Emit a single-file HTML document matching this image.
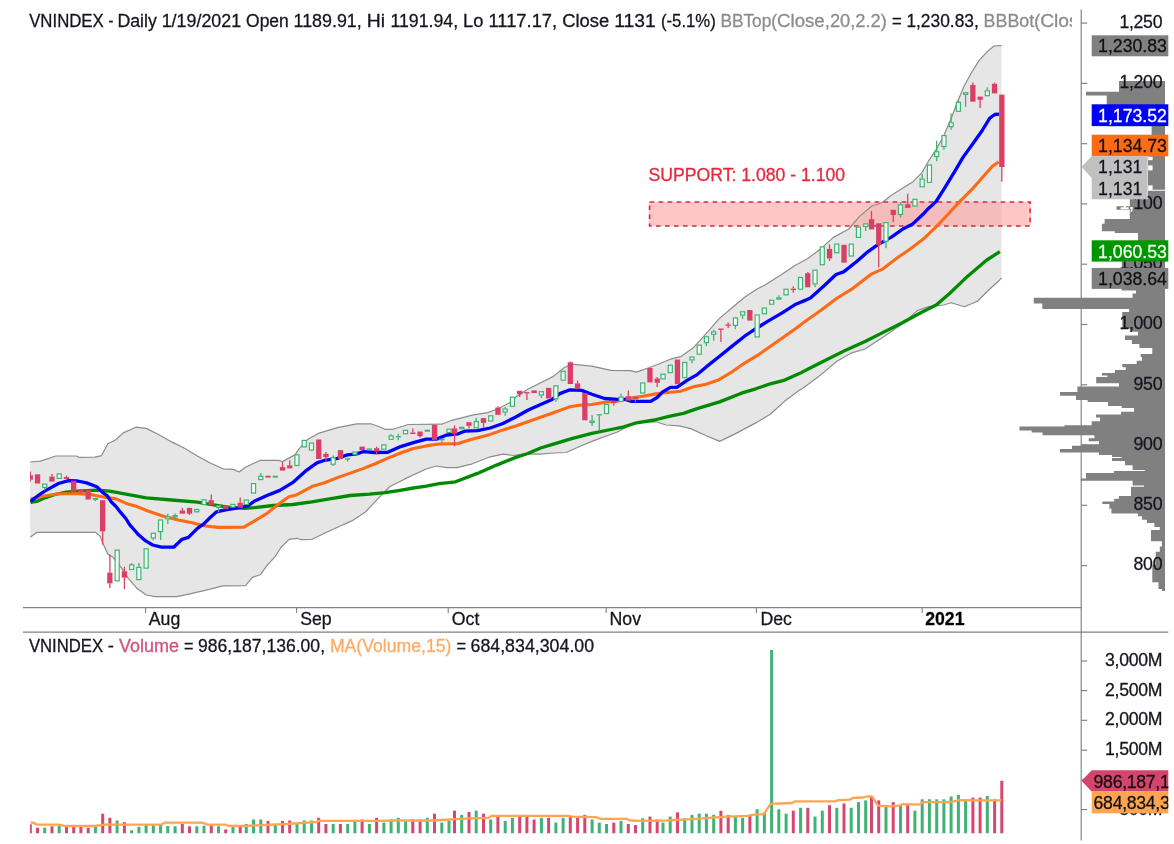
<!DOCTYPE html>
<html lang="en"><head><meta charset="utf-8"><title>VNINDEX - Daily</title>
<style>
html,body{margin:0;padding:0;background:#fff;}
body{width:1174px;height:844px;overflow:hidden;}
svg{display:block;filter:blur(0.3px);}
text{font-family:"Liberation Sans",Arial,sans-serif;font-size:17.68px;fill:#15151f;stroke:#15151f;stroke-width:0.28px;white-space:pre;}
.ln{fill:none;stroke-linejoin:round;stroke-linecap:butt;}
</style></head><body>
<svg width="1174" height="844" viewBox="0 0 1174 844">
<defs>
<clipPath id="ct"><rect x="0" y="0" width="1072" height="40"/></clipPath>
<clipPath id="cl"><rect x="1080" y="760" width="88.3" height="60"/></clipPath>
<clipPath id="cp"><rect x="30" y="30" width="1052" height="577"/></clipPath>
<clipPath id="cv"><rect x="30" y="640" width="1051" height="193.5"/></clipPath>
</defs>
<rect x="0" y="0" width="1174" height="844" fill="#fff"/>
<g clip-path="url(#cp)">
<polygon points="30.2,462 40.5,461.1 55.8,456 76.3,456 78.9,457.3 95,457.2 101.4,455.7 107.8,443.8 115.5,440 123.2,432.9 136,427.2 146.2,428.4 159,434.8 171.8,441.9 184.6,448.3 197.4,456 210.2,463 223,468.8 233.2,469.4 239.3,472 245,467.5 251.6,464.2 260.6,460.3 278.5,460.3 282.4,461.6 295.2,454.6 299,448.8 308,439.2 318.2,433.4 337.4,427.7 356.6,423.8 370.7,423.8 378,426.3 385.2,429.3 392.9,429.3 408.3,424.5 441.6,424.2 451.8,420.3 472.3,415.2 487.6,412.6 497.9,408.8 509.4,403 515.8,397 527.8,389.2 553.4,376.4 563.6,368 571.3,364.2 591.8,366.1 611,370.3 630.2,370.6 636.6,372.1 648.1,368 660,363.5 670.4,359.2 680.6,356.7 693.4,347.7 706.2,333.6 719,318.9 731.8,308 744.6,297.2 757.4,288.8 765,285 780,275.5 795,265.5 807.8,258.5 820.6,248.9 833.4,237.4 848.8,229 859,216.9 871.8,206 882,202.8 891,195.5 902.8,188.1 913,181.7 922,172.7 928.4,161.2 936.1,149.7 943.8,135.6 951.2,118.3 957.6,101.7 964,86.3 971.7,72.2 979.4,60.1 987,51.8 994.1,46 1001.5,45.6 1001.5,277.8 999.9,279.7 988.7,290 977.4,301.2 964.3,306.8 951.2,302.7 943.7,305 928.7,306.5 917.4,310.6 902.4,323.7 883.7,336.8 865,349 851.8,352.8 836.9,361.2 818.1,377.1 803.1,388 799.3,390.3 784.8,401.1 770.3,414.2 755.8,422.9 734.1,434.4 719.6,441.4 705.2,435.2 690.7,428.6 679.1,425.8 666.1,425 655.8,421.8 643,421.8 630.2,425 617.4,432 594.4,440.4 579,446.8 566.2,452.5 553.4,453 540,454.2 525,453.8 513.2,455.5 503,454.2 490.2,456.8 472.3,463.8 456.9,467.7 446.7,467.7 436.4,466 426.2,469 407,477.9 400,481.5 389.9,486.5 379,497.7 365.4,512 351.8,520.9 338.1,527 324.5,533.2 312.2,539.3 301.3,539.7 297.2,538.3 289.1,539.3 280.9,547.5 275.4,556.3 267.3,565.2 260.4,574.7 252.3,577.4 245.5,585.6 223,585.8 210.2,589.2 191,593.7 176.9,596.6 155.2,596.6 146.2,595 137.2,588.6 128.3,578.3 120.6,566.8 112.9,557.2 107.8,554 102.7,543.1 100.1,536.1 95.5,532.4 36.6,532.4 30.2,537.3" fill="#E6E6E6"/>
<rect x="648.8" y="201.8" width="382" height="24.4" fill="#FF9C9C" fill-opacity="0.58"/>
<polyline class="ln" points="30.2,462 40.5,461.1 55.8,456 76.3,456 78.9,457.3 95,457.2 101.4,455.7 107.8,443.8 115.5,440 123.2,432.9 136,427.2 146.2,428.4 159,434.8 171.8,441.9 184.6,448.3 197.4,456 210.2,463 223,468.8 233.2,469.4 239.3,472 245,467.5 251.6,464.2 260.6,460.3 278.5,460.3 282.4,461.6 295.2,454.6 299,448.8 308,439.2 318.2,433.4 337.4,427.7 356.6,423.8 370.7,423.8 378,426.3 385.2,429.3 392.9,429.3 408.3,424.5 441.6,424.2 451.8,420.3 472.3,415.2 487.6,412.6 497.9,408.8 509.4,403 515.8,397 527.8,389.2 553.4,376.4 563.6,368 571.3,364.2 591.8,366.1 611,370.3 630.2,370.6 636.6,372.1 648.1,368 660,363.5 670.4,359.2 680.6,356.7 693.4,347.7 706.2,333.6 719,318.9 731.8,308 744.6,297.2 757.4,288.8 765,285 780,275.5 795,265.5 807.8,258.5 820.6,248.9 833.4,237.4 848.8,229 859,216.9 871.8,206 882,202.8 891,195.5 902.8,188.1 913,181.7 922,172.7 928.4,161.2 936.1,149.7 943.8,135.6 951.2,118.3 957.6,101.7 964,86.3 971.7,72.2 979.4,60.1 987,51.8 994.1,46 1001.5,45.6" stroke="#8C8C8C" stroke-width="1.2"/>
<polyline class="ln" points="30.2,537.3 36.6,532.4 95.5,532.4 100.1,536.1 102.7,543.1 107.8,554 112.9,557.2 120.6,566.8 128.3,578.3 137.2,588.6 146.2,595 155.2,596.6 176.9,596.6 191,593.7 210.2,589.2 223,585.8 245.5,585.6 252.3,577.4 260.4,574.7 267.3,565.2 275.4,556.3 280.9,547.5 289.1,539.3 297.2,538.3 301.3,539.7 312.2,539.3 324.5,533.2 338.1,527 351.8,520.9 365.4,512 379,497.7 389.9,486.5 400,481.5 407,477.9 426.2,469 436.4,466 446.7,467.7 456.9,467.7 472.3,463.8 490.2,456.8 503,454.2 513.2,455.5 525,453.8 540,454.2 553.4,453 566.2,452.5 579,446.8 594.4,440.4 617.4,432 630.2,425 643,421.8 655.8,421.8 666.1,425 679.1,425.8 690.7,428.6 705.2,435.2 719.6,441.4 734.1,434.4 755.8,422.9 770.3,414.2 784.8,401.1 799.3,390.3 803.1,388 818.1,377.1 836.9,361.2 851.8,352.8 865,349 883.7,336.8 902.4,323.7 917.4,310.6 928.7,306.5 943.7,305 951.2,302.7 964.3,306.8 977.4,301.2 988.7,290 999.9,279.7 1001.5,277.8" stroke="#8C8C8C" stroke-width="1.2"/>
<rect x="649.6" y="202" width="380.5" height="24" fill="none" stroke="#DC2840" stroke-width="1.6" stroke-dasharray="4.6 4.4"/>
</g>
<path d="M1119 80.9H1165V92.2H1119ZM1086 91.8H1165V95.4H1086ZM1106.7 95H1165V126.3H1106.7ZM1151.6 125.9H1165V156.2H1151.6ZM1148 155.8H1165V189.7H1148ZM1148 190.8H1165V199.5H1148ZM1129.8 199.1H1165V206.7H1129.8ZM1116.5 206.3H1165V209.7H1116.5ZM1129.8 209.3H1165V219.5H1129.8ZM1104.6 219.1H1165V224.2H1104.6ZM1101.9 223.8H1165V231.2H1101.9ZM1114.8 230.8H1165V233H1114.8ZM1138 232.6H1165V261.7H1138ZM1121.7 261.3H1165V290.6H1121.7ZM1136 290.2H1165V294H1136ZM1132.6 293.6H1165V298.1H1132.6ZM1033.8 297.7H1165V303.5H1033.8ZM1042.3 303.1H1165V309H1042.3ZM1129.2 308.6H1165V312.4H1129.2ZM1122.3 312H1165V328.4H1122.3ZM1129.8 328H1165V331.8H1129.8ZM1138 331.4H1165V335.9H1138ZM1125 335.5H1165V340H1125ZM1131.9 339.6H1165V344H1131.9ZM1139.4 343.6H1165V348.1H1139.4ZM1152.3 347.7H1165V354.3H1152.3ZM1140.7 353.9H1165V357H1140.7ZM1142 356.6H1165V361.1H1142ZM1136.7 360.7H1165V364.5H1136.7ZM1122.3 364.1H1165V367.2H1122.3ZM1125.8 366.8H1165V370.4H1125.8ZM1114.9 370H1165V373.4H1114.9ZM1101.9 373H1165V375.4H1101.9ZM1107.4 375H1165V377.4H1107.4ZM1096.2 377H1165V383.2H1096.2ZM1119 382.8H1165V387H1119ZM1077.4 386.6H1165V392.4H1077.4ZM1060 392H1165V395.8H1060ZM1076 395.4H1165V399.9H1076ZM1087.6 399.5H1165V402H1087.6ZM1108 401.6H1165V406.1H1108ZM1121.7 405.7H1165V408.1H1121.7ZM1134 407.7H1165V412.2H1134ZM1121 411.8H1165V414.9H1121ZM1096 414.5H1165V417.6H1096ZM1100 417.2H1165V421.7H1100ZM1091.7 421.3H1165V425.6H1091.7ZM1064.4 425.2H1165V427H1064.4ZM1019.5 426.6H1165V430.4H1019.5ZM1031.7 430H1165V432.5H1031.7ZM1042.6 432.1H1165V435.2H1042.6ZM1094.4 434.8H1165V438.6H1094.4ZM1088.7 438.2H1165V441.3H1088.7ZM1099 440.9H1165V444.7H1099ZM1082 444.3H1165V446.1H1082ZM1072 445.7H1165V449.5H1072ZM1060 449.1H1165V452.5H1060ZM1099 452.1H1165V455H1099ZM1112 454.6H1165V457H1112ZM1121.7 456.6H1165V458.4H1121.7ZM1112 458H1165V461.1H1112ZM1125 460.7H1165V465.2H1125ZM1132.6 464.8H1165V469.9H1132.6ZM1144.8 469.5H1165V471.3H1144.8ZM1114 470.9H1165V473.4H1114ZM1086 473H1165V478.8H1086ZM1080.8 478.4H1165V480.8H1080.8ZM1132.6 480.4H1165V485.6H1132.6ZM1144 485.2H1165V487.2H1144ZM1131 486.8H1165V496.5H1131ZM1119 496.1H1165V499.2H1119ZM1114.2 498.8H1165V502H1114.2ZM1102.3 501.6H1165V504H1102.3ZM1109.4 503.6H1165V508.8H1109.4ZM1111.4 508.4H1165V513.6H1111.4ZM1138 513.2H1165V516.3H1138ZM1142 515.9H1165V519.7H1142ZM1146.9 519.3H1165V522.9H1146.9ZM1154.4 522.5H1165V527H1154.4ZM1159.8 526.6H1165V530.4H1159.8ZM1151 530H1165V541.3H1151ZM1161.9 540.9H1165V546.8H1161.9ZM1159.8 546.4H1165V552.2H1159.8ZM1155.7 551.8H1165V565.2H1155.7ZM1152.3 564.8H1165V582.2H1152.3ZM1158.5 581.8H1165V589H1158.5ZM1162 588.6H1165V591.1H1162Z" fill="#808080"/>
<g fill="#fff"><rect x="1148.2" y="156.6" width="4.4" height="3.6"/><rect x="1148.2" y="165.4" width="4.4" height="5"/><rect x="1148.2" y="185.4" width="4.4" height="4.6"/></g>
<text x="648.6" y="180.9" textLength="196.5" lengthAdjust="spacingAndGlyphs" style="stroke:#E6283C;fill:#E6283C">SUPPORT: 1.080 - 1.100</text>
<g clip-path="url(#cp)">
<polyline class="ln" points="30.5,502.5 36.6,501.4 45.6,497.6 55,494.5 66,492.2 77.6,491.2 96.8,490.2 109.6,491.2 120.6,493.2 146.2,497.9 171.8,500 197.4,502.2 216.6,505.4 229.4,507.3 245,508.3 254.2,507.7 273.4,505.5 292.6,504.5 311.8,501.9 331,498.7 350.2,495.5 369.4,494.2 385,492.7 400,490.3 413.4,488 426.2,486.2 439,483.7 455.6,481.8 477.4,473.4 496.6,465.1 515.8,457.4 527.8,453.5 540.6,448 553.4,444.2 572.6,438.4 591.8,433.3 611,429.5 623.8,426.9 636.6,422.8 654.5,420 669,416.3 683.4,413.4 697.9,408.4 719.6,401.9 741.4,393.2 755.8,388.8 770.3,383.8 784.8,380.1 799.3,373.6 808.7,368.7 827.5,359.3 846.2,349.9 865,341.5 883.7,332.1 902.4,322.8 921.2,312.5 936.2,305 949.3,293.7 968,275.9 986.8,260 999.9,251.6" stroke="#008A00" stroke-width="3.3"/>
<polyline class="ln" points="30.5,498.9 45.6,495.7 58.4,493.8 77.6,493.8 90.4,494.4 103.2,497 116,498.9 126.2,503.4 135.2,505.9 148,511 163.4,516.2 178.2,520.1 191,522.6 203.8,525.8 217.9,527.4 244,527.2 254.2,521.1 267,513.4 279.8,503.2 288.8,496.8 296.4,494.9 311.8,486.6 324.6,482.7 337.4,477.6 350.2,473.1 363,468.6 375.8,463.5 387.8,458.1 400.6,453 413.4,448.5 426.2,445.9 439,444 458.2,443.6 471,439.5 490.2,434.4 503,429.9 515.8,426 527.8,421.8 540.6,417.3 553.4,412.8 568.8,407.1 579,405.2 591.8,404.5 604.6,402.3 617.4,401.3 630.2,398.1 643,396.2 655.8,393.9 665,392.8 680.6,391.2 693.4,386.8 706.2,384.2 719,379.7 731.8,372 744.6,363.1 757.4,355.4 770.2,346.4 783,337.5 795.8,328.5 805,321.5 820,311 837.2,298 852.6,288.6 871.8,273.8 882,269.4 897.4,257.8 910.2,248.9 923,239.3 935.8,227.1 945,217.5 960.4,200.9 973.2,188.1 982.2,177.8 992.4,166.3 998.8,161.8" stroke="#FF6A14" stroke-width="3.1"/>
<polyline class="ln" points="30.5,501.5 37.9,495.7 45.6,490.6 58.4,483.5 68.6,480.7 77.6,481 86.6,482.9 96.8,486.7 102.7,492.6 107,495.5 111.6,502.2 116,506.5 120.6,512.4 126.2,519 129.6,524.6 135.2,531 138.5,534.8 142.9,538.6 146.2,541.2 152.6,545 161.6,547.2 173.7,547.2 182,539.3 188.4,537.4 197.4,528.4 203.8,523.9 210.2,517.5 216.6,511.8 225.6,509.8 235,508.4 247.8,506 254.2,501.3 267,495.5 279.8,490.4 292.6,482.7 305.4,471.2 316.9,462.9 324.6,460.3 337.4,458.4 347.6,454.8 356.6,453.9 363,451.7 375,452.5 387.8,452.3 400.6,446.6 413.4,442.7 426.2,439.1 436.4,439.1 446.7,435 458.2,433.8 464.6,431.2 477.4,430.6 490.2,428 503,423.5 515.8,417 527.8,410.3 540.6,404.5 552.1,399.4 559.8,393.6 570,389.8 581.6,390.4 591.8,394.3 604.6,398.5 617.4,399.4 625.1,399.4 631.5,401.3 650.7,401.3 657.1,397.5 662.7,391.9 670.4,387.4 676.8,387.4 687,380.4 697.2,374.6 706.2,366.9 719,356.7 731.8,346.4 744.6,336.2 752.3,331 767.6,321.3 783,312.3 795.8,304.2 805,300.4 810.4,298 824.4,285.4 836,274.5 843.6,271.9 856.4,261.7 866.7,252.7 878.2,244.4 891,237.4 903.8,228.4 912.8,223.9 923,214.3 927.1,209.8 936.1,201.5 943.8,189.4 954,172.7 963,157.4 973.2,143.3 982.2,130.5 989.6,118.3 994.7,114.5 999.2,114.1" stroke="#0000FF" stroke-width="3.3"/>
</g>
<g clip-path="url(#cp)">
<line x1="30.3" y1="471.4" x2="30.3" y2="475.2" stroke="#D93F67" stroke-width="1.3"/>
<line x1="30.3" y1="479.7" x2="30.3" y2="481.6" stroke="#D93F67" stroke-width="1.3"/>
<rect x="27.6" y="475.2" width="5.3" height="4.5" fill="#D93F67"/>
<rect x="34.9" y="474.3" width="5.3" height="9.2" fill="#D93F67"/>
<line x1="44.7" y1="488" x2="44.7" y2="490.6" stroke="#3CB371" stroke-width="1.3"/>
<rect x="42.7" y="484.1" width="4.1" height="3.3" fill="#F2FFF4" stroke="#3CB371" stroke-width="1.2"/>
<line x1="52" y1="474" x2="52" y2="476.5" stroke="#D93F67" stroke-width="1.3"/>
<rect x="49.3" y="476.5" width="5.3" height="5.1" fill="#D93F67"/>
<rect x="57.2" y="473.9" width="4.1" height="4.5" fill="#F2FFF4" stroke="#3CB371" stroke-width="1.2"/>
<line x1="66.5" y1="475.6" x2="66.5" y2="477.1" stroke="#D93F67" stroke-width="1.3"/>
<rect x="63.8" y="477.1" width="5.3" height="1.9" fill="#D93F67"/>
<rect x="71" y="480.7" width="5.3" height="11.1" fill="#D93F67"/>
<line x1="80.9" y1="492.2" x2="80.9" y2="493.8" stroke="#D93F67" stroke-width="1.3"/>
<rect x="78.3" y="489.3" width="5.3" height="2.9" fill="#D93F67"/>
<rect x="85.5" y="489.7" width="5.3" height="9.8" fill="#D93F67"/>
<line x1="95.4" y1="499.9" x2="95.4" y2="501.2" stroke="#3CB371" stroke-width="1.3"/>
<rect x="92.8" y="497.9" width="5.3" height="2" fill="#3CB371"/>
<line x1="102.7" y1="531.3" x2="102.7" y2="544.4" stroke="#D93F67" stroke-width="1.3"/>
<rect x="100" y="500.2" width="5.3" height="31.1" fill="#D93F67"/>
<line x1="109.9" y1="554.6" x2="109.9" y2="572.6" stroke="#D93F67" stroke-width="1.3"/>
<line x1="109.9" y1="583.4" x2="109.9" y2="587.9" stroke="#D93F67" stroke-width="1.3"/>
<rect x="107.2" y="572.6" width="5.3" height="10.8" fill="#D93F67"/>
<rect x="115.1" y="550.1" width="4.1" height="30.8" fill="#F2FFF4" stroke="#3CB371" stroke-width="1.2"/>
<line x1="124.4" y1="566.8" x2="124.4" y2="571.3" stroke="#D93F67" stroke-width="1.3"/>
<line x1="124.4" y1="577.7" x2="124.4" y2="589.2" stroke="#D93F67" stroke-width="1.3"/>
<rect x="121.7" y="571.3" width="5.3" height="6.4" fill="#D93F67"/>
<line x1="131.6" y1="563" x2="131.6" y2="564.2" stroke="#3CB371" stroke-width="1.3"/>
<rect x="129.6" y="564.8" width="4.1" height="4.6" fill="#F2FFF4" stroke="#3CB371" stroke-width="1.2"/>
<line x1="138.9" y1="563" x2="138.9" y2="566.8" stroke="#3CB371" stroke-width="1.3"/>
<rect x="136.8" y="567.4" width="4.1" height="12.2" fill="#F2FFF4" stroke="#3CB371" stroke-width="1.2"/>
<rect x="144.1" y="548.8" width="4.1" height="19.3" fill="#F2FFF4" stroke="#3CB371" stroke-width="1.2"/>
<line x1="153.3" y1="538.6" x2="153.3" y2="540.2" stroke="#3CB371" stroke-width="1.3"/>
<rect x="151.3" y="533.2" width="4.1" height="4.8" fill="#F2FFF4" stroke="#3CB371" stroke-width="1.2"/>
<line x1="160.6" y1="532.2" x2="160.6" y2="539.9" stroke="#3CB371" stroke-width="1.3"/>
<rect x="158.5" y="520" width="4.1" height="11.6" fill="#F2FFF4" stroke="#3CB371" stroke-width="1.2"/>
<line x1="167.8" y1="513.7" x2="167.8" y2="516.2" stroke="#3CB371" stroke-width="1.3"/>
<line x1="167.8" y1="519.4" x2="167.8" y2="523.9" stroke="#3CB371" stroke-width="1.3"/>
<rect x="165.8" y="516.8" width="4.1" height="2" fill="#F2FFF4" stroke="#3CB371" stroke-width="1.2"/>
<line x1="175.1" y1="513.5" x2="175.1" y2="515" stroke="#3CB371" stroke-width="1.3"/>
<line x1="175.1" y1="517.5" x2="175.1" y2="519" stroke="#3CB371" stroke-width="1.3"/>
<rect x="173" y="515.6" width="4.1" height="1.3" fill="#F2FFF4" stroke="#3CB371" stroke-width="1.2"/>
<line x1="182.3" y1="507.9" x2="182.3" y2="510.5" stroke="#D93F67" stroke-width="1.3"/>
<rect x="179.7" y="510.5" width="5.3" height="3.2" fill="#D93F67"/>
<line x1="189.5" y1="513.7" x2="189.5" y2="515" stroke="#D93F67" stroke-width="1.3"/>
<rect x="186.9" y="507.9" width="5.3" height="5.8" fill="#D93F67"/>
<rect x="194.7" y="509.5" width="4.1" height="2.3" fill="#F2FFF4" stroke="#3CB371" stroke-width="1.2"/>
<rect x="202" y="499.8" width="4.1" height="4.7" fill="#F2FFF4" stroke="#3CB371" stroke-width="1.2"/>
<line x1="211.3" y1="494.5" x2="211.3" y2="500.2" stroke="#D93F67" stroke-width="1.3"/>
<rect x="208.6" y="500.2" width="5.3" height="4.9" fill="#D93F67"/>
<line x1="218.5" y1="507.9" x2="218.5" y2="512.4" stroke="#3CB371" stroke-width="1.3"/>
<rect x="216.4" y="505.7" width="4.1" height="1.6" fill="#F2FFF4" stroke="#3CB371" stroke-width="1.2"/>
<rect x="223.1" y="505.4" width="5.3" height="3.8" fill="#D93F67"/>
<rect x="230.9" y="504.4" width="4.1" height="2.7" fill="#F2FFF4" stroke="#3CB371" stroke-width="1.2"/>
<line x1="240.2" y1="497.4" x2="240.2" y2="502.8" stroke="#D93F67" stroke-width="1.3"/>
<rect x="237.6" y="502.8" width="5.3" height="4.9" fill="#D93F67"/>
<rect x="244.2" y="500" width="4.1" height="4.5" fill="#F2FFF4" stroke="#3CB371" stroke-width="1.2"/>
<rect x="251.5" y="483.6" width="4.1" height="9.4" fill="#F2FFF4" stroke="#3CB371" stroke-width="1.2"/>
<line x1="260.8" y1="473.1" x2="260.8" y2="475.7" stroke="#3CB371" stroke-width="1.3"/>
<rect x="258.7" y="476.3" width="4.1" height="3.3" fill="#F2FFF4" stroke="#3CB371" stroke-width="1.2"/>
<rect x="265.4" y="475.7" width="5.3" height="1.9" fill="#D93F67"/>
<rect x="272.6" y="475.7" width="5.3" height="1.9" fill="#3CB371"/>
<line x1="282.5" y1="462.2" x2="282.5" y2="467.1" stroke="#D93F67" stroke-width="1.3"/>
<rect x="279.9" y="467.1" width="5.3" height="3.5" fill="#D93F67"/>
<line x1="289.7" y1="460.3" x2="289.7" y2="465.4" stroke="#D93F67" stroke-width="1.3"/>
<rect x="287.1" y="465.4" width="5.3" height="3" fill="#D93F67"/>
<rect x="294.9" y="454.9" width="4.1" height="10.6" fill="#F2FFF4" stroke="#3CB371" stroke-width="1.2"/>
<rect x="302.2" y="440.4" width="4.1" height="6.5" fill="#F2FFF4" stroke="#3CB371" stroke-width="1.2"/>
<rect x="309.4" y="443" width="4.1" height="7.1" fill="#F2FFF4" stroke="#3CB371" stroke-width="1.2"/>
<rect x="316.1" y="439.5" width="5.3" height="19.5" fill="#D93F67"/>
<line x1="325.9" y1="452" x2="325.9" y2="453.9" stroke="#D93F67" stroke-width="1.3"/>
<line x1="325.9" y1="457.1" x2="325.9" y2="461.6" stroke="#D93F67" stroke-width="1.3"/>
<rect x="323.3" y="453.9" width="5.3" height="3.2" fill="#D93F67"/>
<line x1="333.2" y1="455.6" x2="333.2" y2="457.1" stroke="#3CB371" stroke-width="1.3"/>
<line x1="333.2" y1="464.8" x2="333.2" y2="466.1" stroke="#3CB371" stroke-width="1.3"/>
<rect x="331.1" y="457.7" width="4.1" height="6.5" fill="#F2FFF4" stroke="#3CB371" stroke-width="1.2"/>
<rect x="337.8" y="450.1" width="5.3" height="8.9" fill="#D93F67"/>
<line x1="347.7" y1="457.8" x2="347.7" y2="458.3" stroke="#3CB371" stroke-width="1.3"/>
<line x1="347.7" y1="459.7" x2="347.7" y2="461.6" stroke="#3CB371" stroke-width="1.3"/>
<rect x="345" y="458.3" width="5.3" height="1.4" fill="#3CB371"/>
<rect x="352.9" y="452" width="4.1" height="2.2" fill="#F2FFF4" stroke="#3CB371" stroke-width="1.2"/>
<rect x="359.5" y="446.6" width="5.3" height="3.5" fill="#D93F67"/>
<rect x="366.7" y="448.4" width="5.3" height="1.4" fill="#3CB371"/>
<line x1="376.6" y1="446.6" x2="376.6" y2="448.2" stroke="#D93F67" stroke-width="1.3"/>
<line x1="376.6" y1="451.4" x2="376.6" y2="454.5" stroke="#D93F67" stroke-width="1.3"/>
<rect x="374" y="448.2" width="5.3" height="3.2" fill="#D93F67"/>
<rect x="381.8" y="444.9" width="4.1" height="4.3" fill="#F2FFF4" stroke="#3CB371" stroke-width="1.2"/>
<line x1="391.1" y1="434" x2="391.1" y2="435.3" stroke="#3CB371" stroke-width="1.3"/>
<rect x="389.1" y="435.9" width="4.1" height="3.4" fill="#F2FFF4" stroke="#3CB371" stroke-width="1.2"/>
<line x1="398.3" y1="433.8" x2="398.3" y2="436" stroke="#3CB371" stroke-width="1.3"/>
<line x1="398.3" y1="437.4" x2="398.3" y2="440.2" stroke="#3CB371" stroke-width="1.3"/>
<rect x="395.7" y="436" width="5.3" height="1.4" fill="#3CB371"/>
<rect x="403.5" y="430.3" width="4.1" height="3.5" fill="#F2FFF4" stroke="#3CB371" stroke-width="1.2"/>
<line x1="412.8" y1="428.6" x2="412.8" y2="432.5" stroke="#D93F67" stroke-width="1.3"/>
<rect x="410.2" y="432.5" width="5.3" height="1.5" fill="#D93F67"/>
<line x1="420.1" y1="436.1" x2="420.1" y2="437.5" stroke="#D93F67" stroke-width="1.3"/>
<rect x="417.4" y="431.5" width="5.3" height="4.6" fill="#D93F67"/>
<rect x="424.7" y="429.7" width="5.3" height="2" fill="#3CB371"/>
<rect x="431.9" y="424.8" width="5.3" height="15.1" fill="#D93F67"/>
<line x1="441.8" y1="440.4" x2="441.8" y2="442.7" stroke="#3CB371" stroke-width="1.3"/>
<rect x="439.1" y="438.6" width="5.3" height="1.8" fill="#3CB371"/>
<rect x="447" y="429.2" width="4.1" height="3.3" fill="#F2FFF4" stroke="#3CB371" stroke-width="1.2"/>
<line x1="454.5" y1="425.4" x2="454.5" y2="428.4" stroke="#D93F67" stroke-width="1.3"/>
<line x1="454.5" y1="433.8" x2="454.5" y2="446.3" stroke="#D93F67" stroke-width="1.3"/>
<rect x="451.9" y="428.4" width="5.3" height="5.4" fill="#D93F67"/>
<rect x="459.7" y="427.3" width="4.1" height="1.4" fill="#F2FFF4" stroke="#3CB371" stroke-width="1.2"/>
<line x1="469" y1="425.8" x2="469" y2="428.6" stroke="#D93F67" stroke-width="1.3"/>
<rect x="466.3" y="422.2" width="5.3" height="3.6" fill="#D93F67"/>
<line x1="476.2" y1="418.1" x2="476.2" y2="421" stroke="#3CB371" stroke-width="1.3"/>
<rect x="474.2" y="421.6" width="4.1" height="6.2" fill="#F2FFF4" stroke="#3CB371" stroke-width="1.2"/>
<line x1="483.5" y1="422.9" x2="483.5" y2="427.6" stroke="#D93F67" stroke-width="1.3"/>
<rect x="480.8" y="418.1" width="5.3" height="4.8" fill="#D93F67"/>
<rect x="488.7" y="415.8" width="4.1" height="5.2" fill="#F2FFF4" stroke="#3CB371" stroke-width="1.2"/>
<line x1="497.9" y1="406.2" x2="497.9" y2="407.5" stroke="#D93F67" stroke-width="1.3"/>
<rect x="495.3" y="407.5" width="5.3" height="7.3" fill="#D93F67"/>
<line x1="505.2" y1="406.9" x2="505.2" y2="408.4" stroke="#3CB371" stroke-width="1.3"/>
<line x1="505.2" y1="412.6" x2="505.2" y2="415.8" stroke="#3CB371" stroke-width="1.3"/>
<rect x="503.1" y="409" width="4.1" height="3" fill="#F2FFF4" stroke="#3CB371" stroke-width="1.2"/>
<rect x="510.4" y="397.2" width="4.1" height="9.1" fill="#F2FFF4" stroke="#3CB371" stroke-width="1.2"/>
<line x1="519.7" y1="394.3" x2="519.7" y2="397" stroke="#D93F67" stroke-width="1.3"/>
<rect x="517" y="390.8" width="5.3" height="3.5" fill="#D93F67"/>
<line x1="526.9" y1="393.5" x2="526.9" y2="400" stroke="#D93F67" stroke-width="1.3"/>
<rect x="524.2" y="392.1" width="5.3" height="1.4" fill="#D93F67"/>
<rect x="531.5" y="390.4" width="5.3" height="2.6" fill="#D93F67"/>
<line x1="541.4" y1="395.6" x2="541.4" y2="398.1" stroke="#3CB371" stroke-width="1.3"/>
<rect x="539.3" y="391.7" width="4.1" height="3.3" fill="#F2FFF4" stroke="#3CB371" stroke-width="1.2"/>
<rect x="546" y="387.9" width="5.3" height="10.6" fill="#D93F67"/>
<line x1="555.9" y1="399.4" x2="555.9" y2="402" stroke="#3CB371" stroke-width="1.3"/>
<rect x="553.8" y="385.9" width="4.1" height="12.9" fill="#F2FFF4" stroke="#3CB371" stroke-width="1.2"/>
<rect x="561.1" y="371.2" width="4.1" height="9" fill="#F2FFF4" stroke="#3CB371" stroke-width="1.2"/>
<line x1="570.3" y1="361.4" x2="570.3" y2="362.3" stroke="#D93F67" stroke-width="1.3"/>
<rect x="567.7" y="362.3" width="5.3" height="21.7" fill="#D93F67"/>
<line x1="577.6" y1="380.6" x2="577.6" y2="383.4" stroke="#D93F67" stroke-width="1.3"/>
<rect x="574.9" y="383.4" width="5.3" height="5.8" fill="#D93F67"/>
<rect x="582.2" y="393" width="5.3" height="27.3" fill="#D93F67"/>
<line x1="592.1" y1="415.1" x2="592.1" y2="420.5" stroke="#3CB371" stroke-width="1.3"/>
<line x1="592.1" y1="423.1" x2="592.1" y2="425.9" stroke="#3CB371" stroke-width="1.3"/>
<rect x="590" y="421.1" width="4.1" height="1.4" fill="#F2FFF4" stroke="#3CB371" stroke-width="1.2"/>
<line x1="599.3" y1="415.3" x2="599.3" y2="430.5" stroke="#3CB371" stroke-width="1.3"/>
<rect x="596.6" y="414.1" width="5.3" height="1.3" fill="#3CB371"/>
<rect x="604.5" y="404.5" width="4.1" height="9" fill="#F2FFF4" stroke="#3CB371" stroke-width="1.2"/>
<line x1="613.8" y1="403.2" x2="613.8" y2="405.8" stroke="#D93F67" stroke-width="1.3"/>
<rect x="611.1" y="400.7" width="5.3" height="2.5" fill="#D93F67"/>
<line x1="621" y1="393.6" x2="621" y2="396.5" stroke="#3CB371" stroke-width="1.3"/>
<rect x="619" y="397.1" width="4.1" height="4.3" fill="#F2FFF4" stroke="#3CB371" stroke-width="1.2"/>
<line x1="628.3" y1="390.4" x2="628.3" y2="396.2" stroke="#D93F67" stroke-width="1.3"/>
<rect x="625.6" y="396.2" width="5.3" height="4.5" fill="#D93F67"/>
<line x1="635.5" y1="399.4" x2="635.5" y2="402.6" stroke="#D93F67" stroke-width="1.3"/>
<rect x="632.9" y="396.8" width="5.3" height="2.6" fill="#D93F67"/>
<rect x="640.7" y="383" width="4.1" height="10" fill="#F2FFF4" stroke="#3CB371" stroke-width="1.2"/>
<rect x="647.3" y="368" width="5.3" height="14.4" fill="#D93F67"/>
<line x1="657.2" y1="377" x2="657.2" y2="378.5" stroke="#D93F67" stroke-width="1.3"/>
<line x1="657.2" y1="382.8" x2="657.2" y2="387" stroke="#D93F67" stroke-width="1.3"/>
<rect x="654.6" y="378.5" width="5.3" height="4.3" fill="#D93F67"/>
<rect x="661" y="374.2" width="4.1" height="4.7" fill="#F2FFF4" stroke="#3CB371" stroke-width="1.2"/>
<rect x="668.2" y="365.2" width="4.1" height="7.5" fill="#F2FFF4" stroke="#3CB371" stroke-width="1.2"/>
<rect x="674.8" y="359.5" width="5.3" height="24.7" fill="#D93F67"/>
<rect x="682.7" y="362.4" width="4.1" height="15.2" fill="#F2FFF4" stroke="#3CB371" stroke-width="1.2"/>
<line x1="692" y1="360.5" x2="692" y2="363.3" stroke="#3CB371" stroke-width="1.3"/>
<rect x="689.9" y="357" width="4.1" height="2.9" fill="#F2FFF4" stroke="#3CB371" stroke-width="1.2"/>
<rect x="697.2" y="345.1" width="4.1" height="9.1" fill="#F2FFF4" stroke="#3CB371" stroke-width="1.2"/>
<line x1="706.4" y1="343.2" x2="706.4" y2="346.2" stroke="#3CB371" stroke-width="1.3"/>
<rect x="704.4" y="336.8" width="4.1" height="5.8" fill="#F2FFF4" stroke="#3CB371" stroke-width="1.2"/>
<line x1="713.7" y1="329.8" x2="713.7" y2="331.3" stroke="#3CB371" stroke-width="1.3"/>
<line x1="713.7" y1="334.9" x2="713.7" y2="340.7" stroke="#3CB371" stroke-width="1.3"/>
<rect x="711.6" y="331.9" width="4.1" height="2.4" fill="#F2FFF4" stroke="#3CB371" stroke-width="1.2"/>
<line x1="720.9" y1="329.9" x2="720.9" y2="342" stroke="#D93F67" stroke-width="1.3"/>
<rect x="718.3" y="328.5" width="5.3" height="1.4" fill="#D93F67"/>
<line x1="728.2" y1="322.4" x2="728.2" y2="324.4" stroke="#D93F67" stroke-width="1.3"/>
<line x1="728.2" y1="325.8" x2="728.2" y2="327.9" stroke="#D93F67" stroke-width="1.3"/>
<rect x="725.5" y="324.4" width="5.3" height="1.4" fill="#D93F67"/>
<line x1="735.4" y1="326" x2="735.4" y2="329.2" stroke="#3CB371" stroke-width="1.3"/>
<rect x="733.4" y="317.9" width="4.1" height="7.5" fill="#F2FFF4" stroke="#3CB371" stroke-width="1.2"/>
<line x1="742.6" y1="315.7" x2="742.6" y2="318.9" stroke="#3CB371" stroke-width="1.3"/>
<rect x="740.6" y="311.8" width="4.1" height="3.3" fill="#F2FFF4" stroke="#3CB371" stroke-width="1.2"/>
<rect x="747.2" y="310" width="5.3" height="10.6" fill="#D93F67"/>
<rect x="755.1" y="315" width="4.1" height="21.9" fill="#F2FFF4" stroke="#3CB371" stroke-width="1.2"/>
<rect x="762.3" y="308" width="4.1" height="5.8" fill="#F2FFF4" stroke="#3CB371" stroke-width="1.2"/>
<rect x="769.6" y="300.3" width="4.1" height="3.9" fill="#F2FFF4" stroke="#3CB371" stroke-width="1.2"/>
<line x1="778.8" y1="295.2" x2="778.8" y2="297.2" stroke="#3CB371" stroke-width="1.3"/>
<rect x="776.8" y="297.8" width="4.1" height="1.3" fill="#F2FFF4" stroke="#3CB371" stroke-width="1.2"/>
<rect x="784" y="289.2" width="4.1" height="5.7" fill="#F2FFF4" stroke="#3CB371" stroke-width="1.2"/>
<line x1="793.3" y1="286.3" x2="793.3" y2="288.6" stroke="#D93F67" stroke-width="1.3"/>
<line x1="793.3" y1="290.1" x2="793.3" y2="292.7" stroke="#D93F67" stroke-width="1.3"/>
<rect x="790.7" y="288.6" width="5.3" height="1.5" fill="#D93F67"/>
<rect x="798.5" y="277.4" width="4.1" height="11.8" fill="#F2FFF4" stroke="#3CB371" stroke-width="1.2"/>
<line x1="807.8" y1="271.9" x2="807.8" y2="273.2" stroke="#D93F67" stroke-width="1.3"/>
<rect x="805.1" y="273.2" width="5.3" height="14.1" fill="#D93F67"/>
<line x1="815" y1="284.5" x2="815" y2="287.3" stroke="#3CB371" stroke-width="1.3"/>
<rect x="813" y="270.2" width="4.1" height="13.7" fill="#F2FFF4" stroke="#3CB371" stroke-width="1.2"/>
<rect x="820.2" y="246.9" width="4.1" height="17.8" fill="#F2FFF4" stroke="#3CB371" stroke-width="1.2"/>
<line x1="829.5" y1="244.4" x2="829.5" y2="248.9" stroke="#D93F67" stroke-width="1.3"/>
<line x1="829.5" y1="258.5" x2="829.5" y2="261" stroke="#D93F67" stroke-width="1.3"/>
<rect x="826.9" y="248.9" width="5.3" height="9.6" fill="#D93F67"/>
<rect x="834.7" y="244.1" width="4.1" height="8.7" fill="#F2FFF4" stroke="#3CB371" stroke-width="1.2"/>
<rect x="841.4" y="244.8" width="5.3" height="17.9" fill="#D93F67"/>
<rect x="849.2" y="244.1" width="4.1" height="11.9" fill="#F2FFF4" stroke="#3CB371" stroke-width="1.2"/>
<rect x="856.4" y="227.1" width="4.1" height="10.3" fill="#F2FFF4" stroke="#3CB371" stroke-width="1.2"/>
<line x1="865.7" y1="227.1" x2="865.7" y2="231" stroke="#3CB371" stroke-width="1.3"/>
<rect x="863.7" y="223.9" width="4.1" height="2.6" fill="#F2FFF4" stroke="#3CB371" stroke-width="1.2"/>
<line x1="871.5" y1="211.1" x2="871.5" y2="219.2" stroke="#D93F67" stroke-width="1.3"/>
<rect x="868.9" y="219.2" width="5.3" height="10.2" fill="#D93F67"/>
<line x1="878.7" y1="245" x2="878.7" y2="267.4" stroke="#D93F67" stroke-width="1.3"/>
<rect x="876.1" y="223.3" width="5.3" height="21.7" fill="#D93F67"/>
<line x1="886" y1="241.8" x2="886" y2="248.2" stroke="#3CB371" stroke-width="1.3"/>
<rect x="883.9" y="222.6" width="4.1" height="18.6" fill="#F2FFF4" stroke="#3CB371" stroke-width="1.2"/>
<line x1="893.2" y1="215" x2="893.2" y2="222" stroke="#D93F67" stroke-width="1.3"/>
<rect x="890.6" y="209.8" width="5.3" height="5.2" fill="#D93F67"/>
<line x1="900.5" y1="202.2" x2="900.5" y2="204.3" stroke="#3CB371" stroke-width="1.3"/>
<line x1="900.5" y1="215" x2="900.5" y2="217.5" stroke="#3CB371" stroke-width="1.3"/>
<rect x="898.4" y="204.9" width="4.1" height="9.5" fill="#F2FFF4" stroke="#3CB371" stroke-width="1.2"/>
<line x1="907.7" y1="193.8" x2="907.7" y2="204.3" stroke="#D93F67" stroke-width="1.3"/>
<rect x="905.1" y="204.3" width="5.3" height="3.6" fill="#D93F67"/>
<rect x="912.9" y="199.3" width="4.1" height="6.7" fill="#F2FFF4" stroke="#3CB371" stroke-width="1.2"/>
<line x1="922.2" y1="174" x2="922.2" y2="178.5" stroke="#3CB371" stroke-width="1.3"/>
<rect x="920.1" y="179.1" width="4.1" height="7.7" fill="#F2FFF4" stroke="#3CB371" stroke-width="1.2"/>
<rect x="927.4" y="165" width="4.1" height="17.4" fill="#F2FFF4" stroke="#3CB371" stroke-width="1.2"/>
<line x1="936.7" y1="140.7" x2="936.7" y2="151.2" stroke="#3CB371" stroke-width="1.3"/>
<line x1="936.7" y1="157.1" x2="936.7" y2="161.2" stroke="#3CB371" stroke-width="1.3"/>
<rect x="934.6" y="151.8" width="4.1" height="4.7" fill="#F2FFF4" stroke="#3CB371" stroke-width="1.2"/>
<line x1="943.9" y1="147.1" x2="943.9" y2="149.7" stroke="#3CB371" stroke-width="1.3"/>
<rect x="941.9" y="135.6" width="4.1" height="10.9" fill="#F2FFF4" stroke="#3CB371" stroke-width="1.2"/>
<line x1="951.1" y1="113.5" x2="951.1" y2="122.2" stroke="#3CB371" stroke-width="1.3"/>
<line x1="951.1" y1="127.3" x2="951.1" y2="129.8" stroke="#3CB371" stroke-width="1.3"/>
<rect x="949.1" y="122.8" width="4.1" height="3.9" fill="#F2FFF4" stroke="#3CB371" stroke-width="1.2"/>
<line x1="958.4" y1="99.8" x2="958.4" y2="101.7" stroke="#3CB371" stroke-width="1.3"/>
<rect x="956.3" y="102.3" width="4.1" height="9" fill="#F2FFF4" stroke="#3CB371" stroke-width="1.2"/>
<line x1="965.6" y1="95" x2="965.6" y2="106.8" stroke="#3CB371" stroke-width="1.3"/>
<rect x="963.6" y="92.7" width="4.1" height="1.7" fill="#F2FFF4" stroke="#3CB371" stroke-width="1.2"/>
<line x1="972.9" y1="82.5" x2="972.9" y2="85" stroke="#D93F67" stroke-width="1.3"/>
<rect x="970.2" y="85" width="5.3" height="16.7" fill="#D93F67"/>
<line x1="980.1" y1="99.8" x2="980.1" y2="108.1" stroke="#D93F67" stroke-width="1.3"/>
<rect x="977.5" y="96.6" width="5.3" height="3.2" fill="#D93F67"/>
<line x1="987.3" y1="87.3" x2="987.3" y2="90.2" stroke="#3CB371" stroke-width="1.3"/>
<rect x="985.3" y="90.8" width="4.1" height="4.9" fill="#F2FFF4" stroke="#3CB371" stroke-width="1.2"/>
<line x1="994.6" y1="82.5" x2="994.6" y2="83.8" stroke="#D93F67" stroke-width="1.3"/>
<rect x="991.9" y="83.8" width="5.3" height="9.6" fill="#D93F67"/>
<line x1="1001.8" y1="167" x2="1001.8" y2="181.7" stroke="#D93F67" stroke-width="1.3"/>
<rect x="999.2" y="94.6" width="5.3" height="72.4" fill="#D93F67"/>
</g>
<g stroke="#808080" stroke-width="1.15" fill="none">
<line x1="1081.2" y1="9.4" x2="1081.2" y2="840.5"/>
<line x1="23" y1="607.6" x2="1081.2" y2="607.6"/>
<line x1="23" y1="632.1" x2="1168.3" y2="632.1"/>
<line x1="1081.2" y1="23.1" x2="1087.2" y2="23.1"/>
<line x1="1081.2" y1="83.4" x2="1087.2" y2="83.4"/>
<line x1="1081.2" y1="143.7" x2="1087.2" y2="143.7"/>
<line x1="1081.2" y1="203.9" x2="1087.2" y2="203.9"/>
<line x1="1081.2" y1="264.2" x2="1087.2" y2="264.2"/>
<line x1="1081.2" y1="324.5" x2="1087.2" y2="324.5"/>
<line x1="1081.2" y1="384.8" x2="1087.2" y2="384.8"/>
<line x1="1081.2" y1="445" x2="1087.2" y2="445"/>
<line x1="1081.2" y1="505.3" x2="1087.2" y2="505.3"/>
<line x1="1081.2" y1="565.6" x2="1087.2" y2="565.6"/>
<line x1="1081.2" y1="661" x2="1087.2" y2="661"/>
<line x1="1081.2" y1="690.6" x2="1087.2" y2="690.6"/>
<line x1="1081.2" y1="720.3" x2="1087.2" y2="720.3"/>
<line x1="1081.2" y1="750.2" x2="1087.2" y2="750.2"/>
<line x1="1081.2" y1="779.9" x2="1087.2" y2="779.9"/>
<line x1="1081.2" y1="809.6" x2="1087.2" y2="809.6"/>
<line x1="145.6" y1="607.6" x2="145.6" y2="613" stroke-width="1.1"/>
<line x1="296.6" y1="607.6" x2="296.6" y2="613" stroke-width="1.1"/>
<line x1="448.2" y1="607.6" x2="448.2" y2="613" stroke-width="1.1"/>
<line x1="606.2" y1="607.6" x2="606.2" y2="613" stroke-width="1.1"/>
<line x1="756.4" y1="607.6" x2="756.4" y2="613" stroke-width="1.1"/>
<line x1="922.2" y1="607.6" x2="922.2" y2="613" stroke-width="1.1"/>
</g>
<text x="1162.2" y="27.8" text-anchor="end" style="letter-spacing:-0.3px">1,250</text>
<text x="1162.2" y="88.1" text-anchor="end" style="letter-spacing:-0.3px">1,200</text>
<text x="1162.2" y="208.6" text-anchor="end" style="letter-spacing:-0.3px"><tspan style="stroke:#fff;fill:#fff">1,</tspan>100</text>
<text x="1162.2" y="268.9" text-anchor="end" style="letter-spacing:-0.3px">1,050</text>
<text x="1162.2" y="329.2" text-anchor="end" style="letter-spacing:-0.3px">1,000</text>
<text x="1162.2" y="389.5" text-anchor="end" style="letter-spacing:-0.3px">950</text>
<text x="1162.2" y="449.7" text-anchor="end" style="letter-spacing:-0.3px">900</text>
<text x="1162.2" y="510" text-anchor="end" style="letter-spacing:-0.3px">850</text>
<text x="1162.2" y="570.3" text-anchor="end" style="letter-spacing:-0.3px">800</text>
<text x="1162.2" y="666.1" text-anchor="end" style="letter-spacing:-0.3px">3,000M</text>
<text x="1162.2" y="695.7" text-anchor="end" style="letter-spacing:-0.3px">2,500M</text>
<text x="1162.2" y="725.4" text-anchor="end" style="letter-spacing:-0.3px">2,000M</text>
<text x="1162.2" y="755.3" text-anchor="end" style="letter-spacing:-0.3px">1,500M</text>
<text x="1162.2" y="814.7" text-anchor="end" style="letter-spacing:-0.3px">500M</text>
<rect x="1091.7" y="35.3" width="76.6" height="21" fill="#808080"/>
<text x="1098.1" y="52.3" style="stroke:#111;fill:#111">1,230.83</text>
<rect x="1091.7" y="104.3" width="76.6" height="21.8" fill="#0000FF"/>
<text x="1098.1" y="121.7" style="stroke:#fff;fill:#fff">1,173.52</text>
<rect x="1091.7" y="134.7" width="76.6" height="21.6" fill="#FF6A14"/>
<text x="1098.1" y="152" style="stroke:#111;fill:#111">1,134.73</text>
<polygon points="1091.7,156.3 1147.6,156.3 1147.6,178 1091.7,178 1081.5,166.8" fill="#C0C0C0"/>
<text x="1098.1" y="173.3" style="stroke:#15151f;fill:#15151f">1,131</text>
<rect x="1091.7" y="177.4" width="55.9" height="21.9" fill="#C0C0C0"/>
<text x="1098.1" y="194.9" style="stroke:#15151f;fill:#15151f">1,131</text>
<rect x="1091.7" y="240.3" width="76.6" height="21.3" fill="#009600"/>
<text x="1098.1" y="257.5" style="stroke:#EFFFEF;fill:#EFFFEF">1,060.53</text>
<rect x="1091.7" y="267.9" width="76.6" height="21" fill="#808080"/>
<text x="1098.1" y="284.9" style="stroke:#111;fill:#111">1,038.64</text>
<text x="148.8" y="624.8">Aug</text>
<text x="300.2" y="624.8">Sep</text>
<text x="451.8" y="624.8">Oct</text>
<text x="609.6" y="624.8">Nov</text>
<text x="760.4" y="624.8">Dec</text>
<text x="925.2" y="624.8" style="font-weight:bold;fill:#000">2021</text>
<text y="26.6" clip-path="url(#ct)" xml:space="preserve"><tspan x="29.2" textLength="79.2" lengthAdjust="spacingAndGlyphs">VNINDEX </tspan><tspan x="108.4" textLength="9" lengthAdjust="spacingAndGlyphs">- </tspan><tspan x="117.4" textLength="44.3" lengthAdjust="spacingAndGlyphs">Daily </tspan><tspan x="161.7" textLength="84.4" lengthAdjust="spacingAndGlyphs">1/19/2021 </tspan><tspan x="246.1" textLength="47.5" lengthAdjust="spacingAndGlyphs">Open </tspan><tspan x="293.6" textLength="73.1" lengthAdjust="spacingAndGlyphs">1189.91, </tspan><tspan x="366.7" textLength="23.7" lengthAdjust="spacingAndGlyphs">Hi </tspan><tspan x="390.4" textLength="72.6" lengthAdjust="spacingAndGlyphs">1191.94, </tspan><tspan x="463" textLength="25.5" lengthAdjust="spacingAndGlyphs">Lo </tspan><tspan x="488.5" textLength="73.7" lengthAdjust="spacingAndGlyphs">1117.17, </tspan><tspan x="562.2" textLength="52.1" lengthAdjust="spacingAndGlyphs">Close </tspan><tspan x="614.3" textLength="46.7" lengthAdjust="spacingAndGlyphs">1131 </tspan><tspan x="661" textLength="59.4" lengthAdjust="spacingAndGlyphs">(-5.1%) </tspan><tspan x="720.4" textLength="56.7" lengthAdjust="spacingAndGlyphs" style="stroke:#8C8C8C;fill:#8C8C8C">BBTop(</tspan><tspan x="777.1" textLength="52.8" lengthAdjust="spacingAndGlyphs" style="stroke:#8C8C8C;fill:#8C8C8C">Close,</tspan><tspan x="829.9" textLength="62.1" lengthAdjust="spacingAndGlyphs" style="stroke:#8C8C8C;fill:#8C8C8C">20,2.2) </tspan><tspan x="892" textLength="14.4" lengthAdjust="spacingAndGlyphs">= </tspan><tspan x="906.4" textLength="77.2" lengthAdjust="spacingAndGlyphs">1,230.83, </tspan><tspan x="983.6" textLength="56.6" lengthAdjust="spacingAndGlyphs" style="stroke:#8C8C8C;fill:#8C8C8C">BBBot(</tspan><tspan x="1040.2" textLength="119.8" lengthAdjust="spacingAndGlyphs" style="stroke:#8C8C8C;fill:#8C8C8C">Close,20,2.2) </tspan><tspan x="1160">= 1,038.64</tspan></text>
<text y="651.7" xml:space="preserve"><tspan x="28.9" textLength="78.8" lengthAdjust="spacingAndGlyphs">VNINDEX </tspan><tspan x="107.7" textLength="11.3" lengthAdjust="spacingAndGlyphs">- </tspan><tspan x="119" textLength="65" lengthAdjust="spacingAndGlyphs" style="stroke:#D5507A;fill:#D5507A">Volume </tspan><tspan x="184" textLength="14" lengthAdjust="spacingAndGlyphs">= </tspan><tspan x="198" textLength="131.9" lengthAdjust="spacingAndGlyphs">986,187,136.00, </tspan><tspan x="329.9" textLength="126.5" lengthAdjust="spacingAndGlyphs" style="stroke:#FFAA66;fill:#FFAA66">MA(Volume,15) </tspan><tspan x="456.4" textLength="14.1" lengthAdjust="spacingAndGlyphs">= </tspan><tspan x="470.5" textLength="123.6" lengthAdjust="spacingAndGlyphs">684,834,304.00</tspan></text>
<g clip-path="url(#cv)">
<rect x="28.8" y="824.3" width="3" height="9.2" fill="#D5476E"/>
<rect x="36" y="827.7" width="3" height="5.8" fill="#D5476E"/>
<rect x="43.2" y="827.7" width="3" height="5.8" fill="#3FB374"/>
<rect x="50.5" y="826.3" width="3" height="7.2" fill="#D5476E"/>
<rect x="57.7" y="825.7" width="3" height="7.8" fill="#3FB374"/>
<rect x="65" y="825.1" width="3" height="8.4" fill="#D5476E"/>
<rect x="72.2" y="825.1" width="3" height="8.4" fill="#D5476E"/>
<rect x="79.4" y="826.3" width="3" height="7.2" fill="#D5476E"/>
<rect x="86.7" y="827.7" width="3" height="5.8" fill="#D5476E"/>
<rect x="93.9" y="826.8" width="3" height="6.7" fill="#3FB374"/>
<rect x="101.2" y="813.7" width="3" height="19.8" fill="#D5476E"/>
<rect x="108.4" y="817.8" width="3" height="15.7" fill="#D5476E"/>
<rect x="115.6" y="820.5" width="3" height="13" fill="#3FB374"/>
<rect x="122.9" y="822.2" width="3" height="11.3" fill="#D5476E"/>
<rect x="130.1" y="830.3" width="3" height="3.2" fill="#3FB374"/>
<rect x="137.4" y="826.8" width="3" height="6.7" fill="#3FB374"/>
<rect x="144.6" y="825.1" width="3" height="8.4" fill="#3FB374"/>
<rect x="151.8" y="825.1" width="3" height="8.4" fill="#3FB374"/>
<rect x="159.1" y="824" width="3" height="9.5" fill="#3FB374"/>
<rect x="166.3" y="826" width="3" height="7.5" fill="#3FB374"/>
<rect x="173.6" y="826.3" width="3" height="7.2" fill="#3FB374"/>
<rect x="180.8" y="824" width="3" height="9.5" fill="#D5476E"/>
<rect x="188" y="826.3" width="3" height="7.2" fill="#D5476E"/>
<rect x="195.3" y="826.3" width="3" height="7.2" fill="#3FB374"/>
<rect x="202.5" y="825.7" width="3" height="7.8" fill="#3FB374"/>
<rect x="209.8" y="824" width="3" height="9.5" fill="#D5476E"/>
<rect x="217" y="826.3" width="3" height="7.2" fill="#3FB374"/>
<rect x="224.2" y="829.4" width="3" height="4.1" fill="#D5476E"/>
<rect x="231.5" y="826.8" width="3" height="6.7" fill="#3FB374"/>
<rect x="238.7" y="826.3" width="3" height="7.2" fill="#D5476E"/>
<rect x="244.8" y="824" width="3" height="9.5" fill="#3FB374"/>
<rect x="252" y="819.5" width="3" height="14" fill="#3FB374"/>
<rect x="259.3" y="819.5" width="3" height="14" fill="#3FB374"/>
<rect x="266.5" y="820.9" width="3" height="12.6" fill="#D5476E"/>
<rect x="273.8" y="824" width="3" height="9.5" fill="#3FB374"/>
<rect x="281" y="820.9" width="3" height="12.6" fill="#D5476E"/>
<rect x="288.2" y="820.5" width="3" height="13" fill="#D5476E"/>
<rect x="295.5" y="823.4" width="3" height="10.1" fill="#3FB374"/>
<rect x="302.7" y="820.5" width="3" height="13" fill="#3FB374"/>
<rect x="310" y="820.5" width="3" height="13" fill="#3FB374"/>
<rect x="317.2" y="817.8" width="3" height="15.7" fill="#D5476E"/>
<rect x="324.4" y="824" width="3" height="9.5" fill="#D5476E"/>
<rect x="331.7" y="824" width="3" height="9.5" fill="#3FB374"/>
<rect x="338.9" y="824" width="3" height="9.5" fill="#D5476E"/>
<rect x="346.2" y="824" width="3" height="9.5" fill="#3FB374"/>
<rect x="353.4" y="820.9" width="3" height="12.6" fill="#3FB374"/>
<rect x="360.6" y="819.5" width="3" height="14" fill="#D5476E"/>
<rect x="367.9" y="824" width="3" height="9.5" fill="#3FB374"/>
<rect x="375.1" y="817.8" width="3" height="15.7" fill="#D5476E"/>
<rect x="382.4" y="822.6" width="3" height="10.9" fill="#3FB374"/>
<rect x="389.6" y="819.5" width="3" height="14" fill="#3FB374"/>
<rect x="396.8" y="817.8" width="3" height="15.7" fill="#3FB374"/>
<rect x="404.1" y="820.5" width="3" height="13" fill="#3FB374"/>
<rect x="411.3" y="819.5" width="3" height="14" fill="#D5476E"/>
<rect x="418.6" y="820.9" width="3" height="12.6" fill="#D5476E"/>
<rect x="425.8" y="817.8" width="3" height="15.7" fill="#3FB374"/>
<rect x="433" y="813.7" width="3" height="19.8" fill="#D5476E"/>
<rect x="440.3" y="822.6" width="3" height="10.9" fill="#3FB374"/>
<rect x="447.5" y="820.9" width="3" height="12.6" fill="#3FB374"/>
<rect x="453" y="810.7" width="3" height="22.8" fill="#D5476E"/>
<rect x="460.2" y="814.9" width="3" height="18.6" fill="#3FB374"/>
<rect x="467.5" y="812" width="3" height="21.5" fill="#D5476E"/>
<rect x="474.7" y="810.7" width="3" height="22.8" fill="#3FB374"/>
<rect x="482" y="813.7" width="3" height="19.8" fill="#D5476E"/>
<rect x="489.2" y="819.5" width="3" height="14" fill="#3FB374"/>
<rect x="496.4" y="816.6" width="3" height="16.9" fill="#D5476E"/>
<rect x="503.7" y="820.9" width="3" height="12.6" fill="#3FB374"/>
<rect x="510.9" y="817.8" width="3" height="15.7" fill="#3FB374"/>
<rect x="518.2" y="814.9" width="3" height="18.6" fill="#D5476E"/>
<rect x="525.4" y="816.6" width="3" height="16.9" fill="#D5476E"/>
<rect x="532.6" y="819.5" width="3" height="14" fill="#D5476E"/>
<rect x="539.9" y="817.8" width="3" height="15.7" fill="#3FB374"/>
<rect x="547.1" y="817.8" width="3" height="15.7" fill="#D5476E"/>
<rect x="554.4" y="822.6" width="3" height="10.9" fill="#3FB374"/>
<rect x="561.6" y="817.8" width="3" height="15.7" fill="#3FB374"/>
<rect x="568.8" y="816.1" width="3" height="17.4" fill="#D5476E"/>
<rect x="576.1" y="816.6" width="3" height="16.9" fill="#D5476E"/>
<rect x="583.3" y="814.9" width="3" height="18.6" fill="#D5476E"/>
<rect x="590.6" y="819.5" width="3" height="14" fill="#3FB374"/>
<rect x="597.8" y="822.6" width="3" height="10.9" fill="#3FB374"/>
<rect x="605" y="824" width="3" height="9.5" fill="#3FB374"/>
<rect x="612.3" y="822.6" width="3" height="10.9" fill="#D5476E"/>
<rect x="619.5" y="820.9" width="3" height="12.6" fill="#3FB374"/>
<rect x="626.8" y="824" width="3" height="9.5" fill="#D5476E"/>
<rect x="634" y="825.1" width="3" height="8.4" fill="#D5476E"/>
<rect x="641.2" y="818.3" width="3" height="15.2" fill="#3FB374"/>
<rect x="648.5" y="816.6" width="3" height="16.9" fill="#D5476E"/>
<rect x="655.7" y="819.5" width="3" height="14" fill="#D5476E"/>
<rect x="661.5" y="822.6" width="3" height="10.9" fill="#3FB374"/>
<rect x="668.7" y="816.6" width="3" height="16.9" fill="#3FB374"/>
<rect x="676" y="812.4" width="3" height="21.1" fill="#D5476E"/>
<rect x="683.2" y="818.3" width="3" height="15.2" fill="#3FB374"/>
<rect x="690.5" y="814.9" width="3" height="18.6" fill="#3FB374"/>
<rect x="697.7" y="813.7" width="3" height="19.8" fill="#3FB374"/>
<rect x="704.9" y="813.7" width="3" height="19.8" fill="#3FB374"/>
<rect x="712.2" y="814.9" width="3" height="18.6" fill="#3FB374"/>
<rect x="719.4" y="810.7" width="3" height="22.8" fill="#D5476E"/>
<rect x="726.7" y="814.9" width="3" height="18.6" fill="#D5476E"/>
<rect x="733.9" y="816.6" width="3" height="16.9" fill="#3FB374"/>
<rect x="741.1" y="817.8" width="3" height="15.7" fill="#3FB374"/>
<rect x="748.4" y="814.9" width="3" height="18.6" fill="#D5476E"/>
<rect x="755.6" y="809.3" width="3" height="24.2" fill="#3FB374"/>
<rect x="762.9" y="812.4" width="3" height="21.1" fill="#3FB374"/>
<rect x="770.1" y="650" width="3" height="183.5" fill="#3FB374"/>
<rect x="777.3" y="809.3" width="3" height="24.2" fill="#3FB374"/>
<rect x="784.6" y="813.7" width="3" height="19.8" fill="#3FB374"/>
<rect x="791.8" y="810.7" width="3" height="22.8" fill="#D5476E"/>
<rect x="799.1" y="807.8" width="3" height="25.7" fill="#3FB374"/>
<rect x="806.3" y="807.8" width="3" height="25.7" fill="#D5476E"/>
<rect x="813.5" y="816.6" width="3" height="16.9" fill="#3FB374"/>
<rect x="820.8" y="810.7" width="3" height="22.8" fill="#3FB374"/>
<rect x="828" y="805.2" width="3" height="28.3" fill="#D5476E"/>
<rect x="835.3" y="807.8" width="3" height="25.7" fill="#3FB374"/>
<rect x="842.5" y="803.5" width="3" height="30" fill="#D5476E"/>
<rect x="849.7" y="807.8" width="3" height="25.7" fill="#3FB374"/>
<rect x="857" y="802.1" width="3" height="31.4" fill="#3FB374"/>
<rect x="864.2" y="800.4" width="3" height="33.1" fill="#3FB374"/>
<rect x="870" y="796.5" width="3" height="37" fill="#D5476E"/>
<rect x="877.2" y="800.4" width="3" height="33.1" fill="#D5476E"/>
<rect x="884.5" y="806.4" width="3" height="27.1" fill="#3FB374"/>
<rect x="891.7" y="802.1" width="3" height="31.4" fill="#D5476E"/>
<rect x="899" y="805.2" width="3" height="28.3" fill="#3FB374"/>
<rect x="906.2" y="805.2" width="3" height="28.3" fill="#D5476E"/>
<rect x="913.4" y="810.7" width="3" height="22.8" fill="#3FB374"/>
<rect x="920.7" y="799.3" width="3" height="34.2" fill="#3FB374"/>
<rect x="927.9" y="799.3" width="3" height="34.2" fill="#3FB374"/>
<rect x="935.2" y="799.3" width="3" height="34.2" fill="#3FB374"/>
<rect x="942.4" y="799.3" width="3" height="34.2" fill="#3FB374"/>
<rect x="949.6" y="796.5" width="3" height="37" fill="#3FB374"/>
<rect x="956.9" y="795" width="3" height="38.5" fill="#3FB374"/>
<rect x="964.1" y="800.4" width="3" height="33.1" fill="#3FB374"/>
<rect x="971.4" y="797.6" width="3" height="35.9" fill="#D5476E"/>
<rect x="978.6" y="797.6" width="3" height="35.9" fill="#D5476E"/>
<rect x="985.8" y="796" width="3" height="37.5" fill="#3FB374"/>
<rect x="993.1" y="799.3" width="3" height="34.2" fill="#D5476E"/>
<rect x="1000.3" y="780.8" width="3" height="52.7" fill="#D5476E"/>
<polyline class="ln" points="30.5,822.6 33,822.6 37,824.6 59.2,824.6 64.3,826 95,826 105.2,824.6 161.4,824.6 164.8,822.6 202.3,822.6 207.4,824.6 225.3,824.6 228.7,826 244,826 261,825.1 286.6,824 315.6,822.2 319,820.9 380.3,820.9 397.3,820.5 434.1,820.5 468.1,818.3 488.6,817.8 492,815.8 568.7,815.8 572,816.6 595.9,817.1 600.2,818.8 626.6,818.8 630,820.5 641.1,820.9 666.7,820.5 692.2,819.2 726.3,816.6 748.4,815.8 751.8,814.9 763.8,814.1 770.6,803.9 791.9,803 795.3,801.3 834.5,801.3 838.8,800.1 849.8,799.6 853.3,797.9 863.5,797.5 866.9,796.5 872,796.5 878,805.6 890.7,806.4 899.3,805.6 902.7,804.2 919.7,804.7 923.1,802.1 950.4,802.1 958.9,800.1 980,800.4 1001.4,800.3" stroke="#FFA552" stroke-width="2.3"/>
</g>
<polygon points="1091.7,770.2 1168.3,770.2 1168.3,791.4 1091.7,791.4 1081.5,780.8" fill="#D5446C"/>
<text x="1093.6" y="787.7" style="stroke:#111;fill:#111;letter-spacing:-0.3px" clip-path="url(#cl)">986,187,136</text>
<rect x="1091.7" y="791.4" width="76.6" height="21.9" fill="#FFA552"/>
<text x="1093.6" y="809.2" style="stroke:#111;fill:#111;letter-spacing:-0.3px" clip-path="url(#cl)">684,834,304</text>
</svg>
</body></html>
